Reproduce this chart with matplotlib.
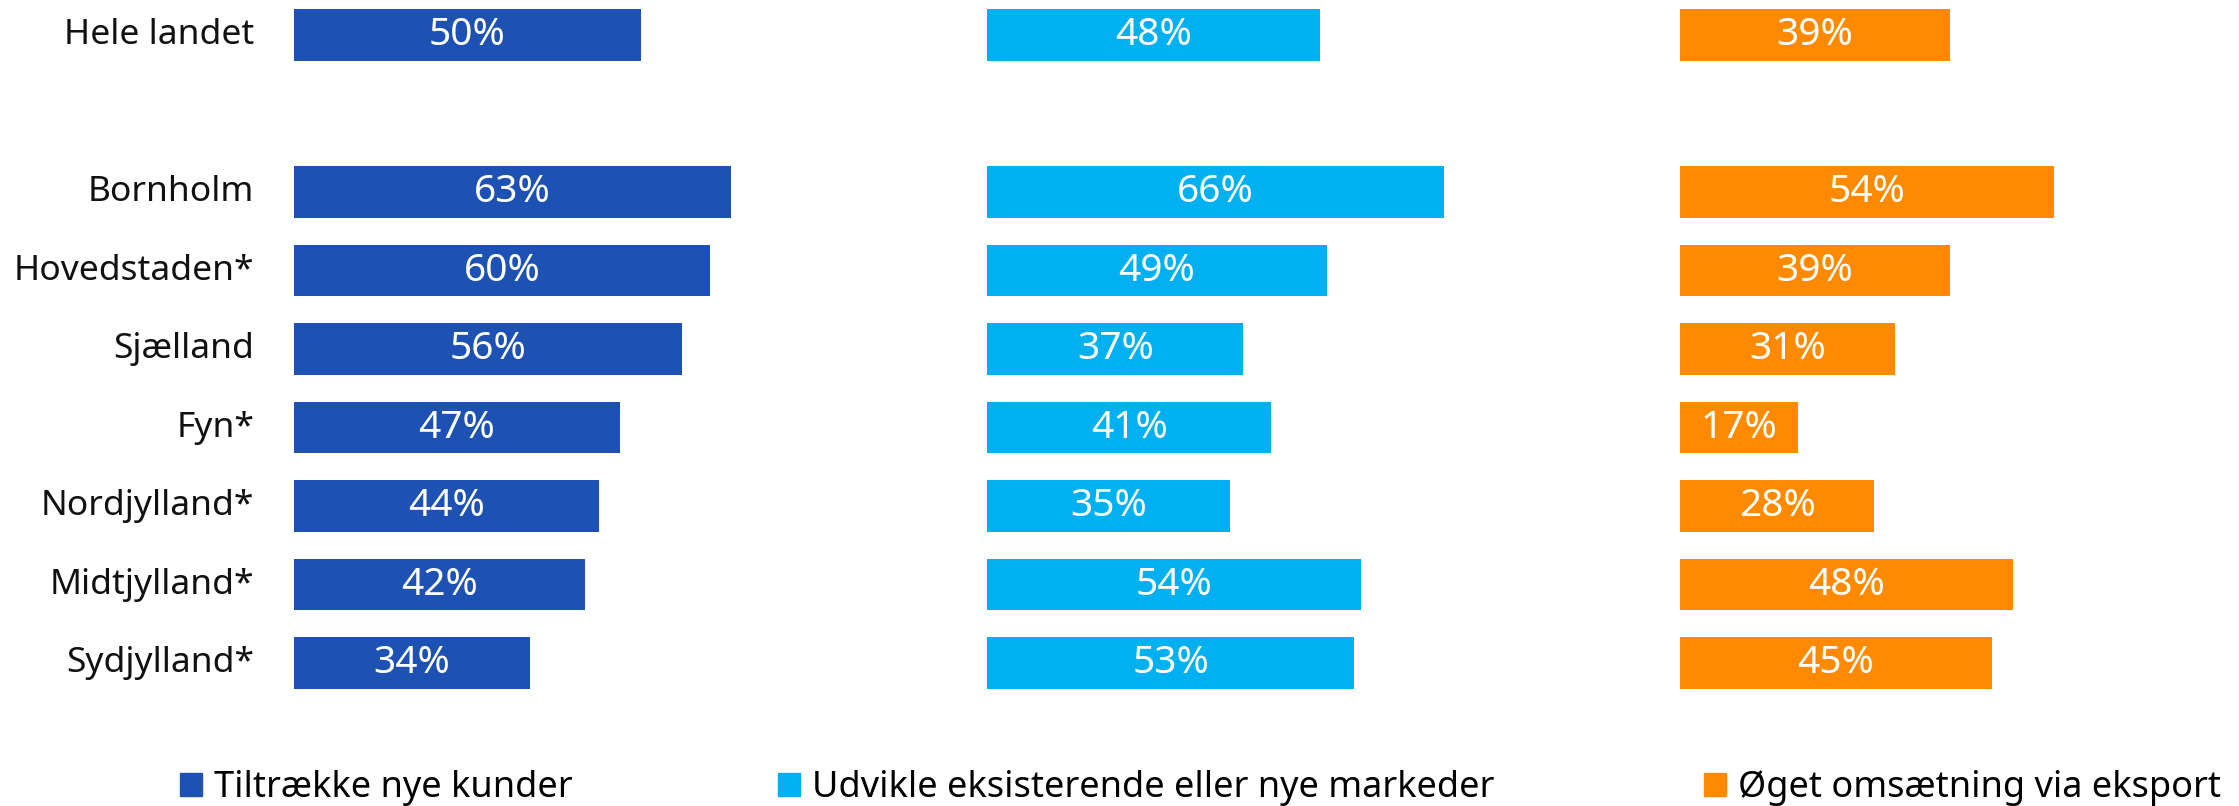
import numpy as np
import matplotlib
matplotlib.use("Agg")
import matplotlib.pyplot as plt
from matplotlib.patches import Patch

plt.rcParams['font.family'] = ['Noto Sans', 'DejaVu Sans']

# data
regions = ["Hele landet", "Bornholm", "Hovedstaden*", "Sjælland", "Fyn*",
           "Nordjylland*", "Midtjylland*", "Sydjylland*"]
kunder = [50, 63, 60, 56, 47, 44, 42, 34]
markeder = [48, 66, 49, 37, 41, 35, 54, 53]
eksport = [39, 54, 39, 31, 17, 28, 48, 45]
series_names = ["Tiltrække nye kunder", "Udvikle eksisterende eller nye markeder",
                "Øget omsætning via eksport"]
colors = ["#1D51B3", "#00B0F0", "#FF8A00"]

# Hele landet on top, then a blank row, then the regions
ypos = np.array([0, 2, 3, 4, 5, 6, 7, 8])

W, H = 2239, 806
fig = plt.figure(figsize=(W / 100, H / 100), dpi=100)

lefts = [294, 987, 1680]
panel_w = 693

for i, (vals, col) in enumerate(zip([kunder, markeder, eksport], colors)):
    ax = fig.add_axes([lefts[i] / W, 106 / H, panel_w / W, 700 / H])
    ax.barh(ypos, vals, height=0.656, color=col)
    for y, v in zip(ypos, vals):
        ax.text(v / 2, y, f"{v}%", ha="center", va="center", color="white", fontsize=28)
    ax.set_xlim(0, 100)
    ax.set_ylim(8.469, -0.448)
    ax.axis("off")
    if i == 0:
        for y, r in zip(ypos, regions):
            ax.text(-40 / panel_w * 100, y, r, ha="right", va="center",
                    fontsize=25.5, color="#111111")

# legend entries placed separately
leg_x = [180, 778, 1704]
for name, col, x in zip(series_names, colors, leg_x):
    fig.legend(handles=[Patch(color=col)], labels=[name], loc="center left",
               bbox_to_anchor=(x / W, 1 - 788 / H), frameon=False, fontsize=26,
               handlelength=0.6, handleheight=0.6, handletextpad=0.35,
               borderpad=0, borderaxespad=0)

fig.savefig("out.png", dpi=100, facecolor="white")
